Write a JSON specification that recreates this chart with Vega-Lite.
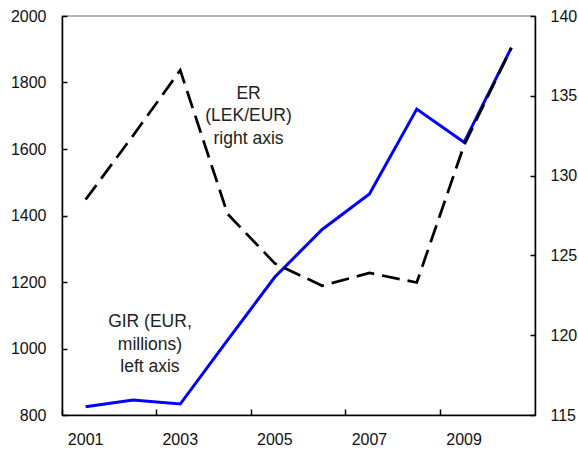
{
  "$schema": "https://vega.github.io/schema/vega-lite/v6.json",
  "width": 473,
  "height": 399,
  "autosize": {"type": "none"},
  "padding": {"left": 62, "top": 16, "right": 43, "bottom": 36},
  "background": "white",
  "config": {
    "font": "Liberation Sans",
    "view": {"stroke": "#a0a0a0", "strokeWidth": 1.5},
    "axis": {
      "labelFont": "Liberation Sans",
      "labelFontSize": 16,
      "labelColor": "#111111",
      "domainColor": "#000000",
      "domainWidth": 1.5,
      "tickColor": "#000000",
      "tickWidth": 1.5,
      "grid": false,
      "title": null
    }
  },
  "datasets": {
    "series": [
      {"year": 2001, "gir": 825, "er": 128.5},
      {"year": 2002, "gir": 845, "er": 132.5},
      {"year": 2003, "gir": 833, "er": 136.6},
      {"year": 2004, "gir": 1025, "er": 127.6},
      {"year": 2005, "gir": 1215, "er": 124.5},
      {"year": 2006, "gir": 1358, "er": 123.1},
      {"year": 2007, "gir": 1465, "er": 123.9},
      {"year": 2008, "gir": 1720, "er": 123.3},
      {"year": 2009, "gir": 1620, "er": 131.9},
      {"year": 2010, "gir": 1905, "er": 138.0}
    ],
    "notes": [
      {"year": 2004, "ty": 1766, "label": "ER\n(LEK/EUR)\nright axis", "which": "er"},
      {"year": 2002, "ty": 1079, "label": "GIR (EUR,\nmillions)\nleft axis", "which": "gir"}
    ]
  },
  "encoding": {
    "x": {
      "field": "year",
      "type": "ordinal",
      "scale": {"type": "band", "paddingInner": 0, "paddingOuter": 0, "domain": [2001, 2002, 2003, 2004, 2005, 2006, 2007, 2008, 2009, 2010]},
      "axis": {
        "values": [2001, 2003, 2005, 2007, 2009],
        "bandPosition": 0,
        "tickExtra": false,
        "tickSize": -6,
        "labelPadding": 22,
        "labelAngle": 0
      }
    }
  },
  "layer": [
    {
      "layer": [
        {
          "data": {"name": "series"},
          "mark": {"type": "line", "color": "#0000ff", "strokeWidth": 3},
          "encoding": {
            "y": {
              "field": "gir",
              "type": "quantitative",
              "scale": {"domain": [800, 2000], "nice": false, "zero": false},
              "axis": {
                "orient": "left",
                "values": [800, 1000, 1200, 1400, 1600, 1800, 2000],
                "format": "d",
                "tickSize": -5,
                "labelPadding": 21
              }
            }
          }
        },
        {
          "data": {"name": "notes"},
          "transform": [{"filter": "datum.which == 'er'"}],
          "mark": {"type": "text", "lineBreak": "\n", "lineHeight": 22.5, "fontSize": 17.5, "font": "Liberation Sans", "color": "#222222", "align": "center", "baseline": "middle", "dx": 21},
          "encoding": {
            "y": {"field": "ty", "type": "quantitative"},
            "text": {"field": "label"}
          }
        },
        {
          "data": {"name": "notes"},
          "transform": [{"filter": "datum.which == 'gir'"}],
          "mark": {"type": "text", "lineBreak": "\n", "lineHeight": 22.5, "fontSize": 17.5, "font": "Liberation Sans", "color": "#222222", "align": "center", "baseline": "middle", "dx": 17},
          "encoding": {
            "y": {"field": "ty", "type": "quantitative"},
            "text": {"field": "label"}
          }
        }
      ]
    },
    {
      "data": {"name": "series"},
      "mark": {"type": "line", "color": "#000000", "strokeWidth": 2.75, "strokeDash": [18, 8]},
      "encoding": {
        "y": {
          "field": "er",
          "type": "quantitative",
          "scale": {"domain": [115, 140], "nice": false, "zero": false},
          "axis": {
            "orient": "right",
            "values": [115, 120, 125, 130, 135, 140],
            "tickSize": -5,
            "labelPadding": 20
          }
        }
      }
    }
  ],
  "resolve": {"scale": {"y": "independent"}}
}
